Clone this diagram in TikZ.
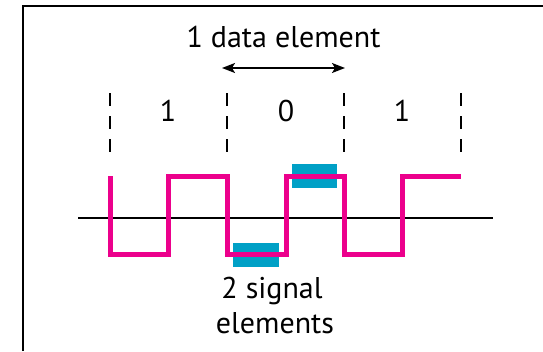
\documentclass[tikz,border=0pt]{standalone}
\usepackage{fontspec}
\setmainfont{PT Sans}
\usetikzlibrary{arrows.meta}
\definecolor{sigpink}{RGB}{236,0,140}
\definecolor{elemblue}{RGB}{0,160,198}
\tikzset{
  boundary/.style={line width=2pt,dash pattern=on 13pt off 10pt},
  signal/.style={sigpink,line width=5pt},
  elembox/.style={fill=elemblue},
  lbl/.style={font=\fontsize{30}{36}\selectfont,inner sep=0pt,anchor=base}
}
\begin{document}
\begin{tikzpicture}[x=1pt,y=-1pt,>={Stealth[length=13pt,width=10pt,inset=3pt]},line join=miter]
\useasboundingbox (0,0) rectangle (543,351);
\draw[line width=1.5pt] (23,351)--(23,6)--(543,6);
% bit boundaries and bit values
\foreach \x in {110,227,344,461} \draw[boundary] (\x,93)--(\x,153);
\foreach \x/\b in {168/1,286/0,402/1} \node[lbl] (bit\x) at (\x,121) {\b};
\node[lbl] (title) at (283.5,47) {1 data element};
\coordinate (arrL) at (222,68);
\coordinate (arrR) at (345,68);
\draw[<->,line width=1.5pt] (arrL)--(arrR);
% time axis
\draw[line width=2pt] (78,218)--(493,218);
% signal elements
\fill[elembox] (233,243) rectangle (279,267);
\fill[elembox] (292,164) rectangle (337,188);
\draw[signal] (110,176) |- (168,254) |- (227,176) |- (286,254) |- (344,176) |- (402,254) |- (461,176);
\node[lbl] (capA) at (272,298) {2 signal};
\node[lbl] (capB) at (275,333) {elements};
\end{tikzpicture}
\end{document}
